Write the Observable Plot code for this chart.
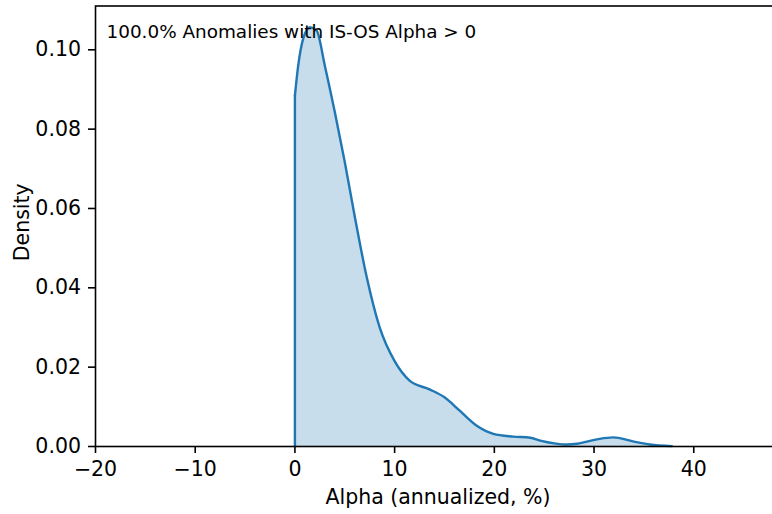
<!DOCTYPE html>
<html>
<head>
<meta charset="utf-8">
<script src="https://cdn.jsdelivr.net/npm/d3@7"></script>
<script src="https://cdn.jsdelivr.net/npm/@observablehq/plot@0.6"></script>
<style>
  html, body { margin: 0; padding: 0; background: white; }
  #chart { width: 772px; height: 514px; overflow: hidden; }
</style>
</head>
<body>
<div id="chart"></div>
<script>
// Data (KDE of alpha, annualized %)
const alphaValues = [0, 0.33, 0.83, 1.5, 2.17, 3.0, 4.0, 5.0, 6.0, 7.2, 8.5, 10.0, 11.5, 13.5, 15.0, 16.5, 18.2, 19.9, 21.9, 23.6, 24.6, 26.0, 27.3, 28.3, 30.3, 31.9, 33.9, 35.6, 37.8];
const densityValues = [0.0885, 0.096, 0.1028, 0.1057, 0.1049, 0.096, 0.0843, 0.0717, 0.058, 0.0427, 0.030, 0.0215, 0.0166, 0.0144, 0.0124, 0.0091, 0.0053, 0.0032, 0.0025, 0.0022, 0.0015, 0.0008, 0.0005, 0.0007, 0.0018, 0.0023, 0.0013, 0.0005, 0.0001];
const xTicks = [-20, -10, 0, 10, 20, 30, 40];
const yTicks = [0, 0.02, 0.04, 0.06, 0.08, 0.10];
const xLabel = "Alpha (annualized, %)";
const yLabel = "Density";
const annotation = "100.0% Anomalies with IS-OS Alpha > 0";

const data = alphaValues.map((a, i) => ({alpha: a, density: densityValues[i]}));
const blue = "#1f77b4";
const font = "DejaVu Sans";

const chart = Plot.plot({
  width: 772,
  height: 514,
  marginLeft: 95,
  marginRight: -8,
  marginTop: 5.5,
  marginBottom: 68,
  style: {fontFamily: font, background: "white", color: "black"},
  x: {domain: [-20, 48.7]},
  y: {domain: [0, 0.11104]},
  marks: [
    Plot.areaY(data, {x: "alpha", y: "density", fill: blue, fillOpacity: 0.25, curve: "monotone-x"}),
    Plot.ruleX([data[0]], {x: "alpha", y1: 0, y2: "density", stroke: blue, strokeWidth: 2.4}),
    Plot.lineY(data, {x: "alpha", y: "density", stroke: blue, strokeWidth: 2.4, curve: "monotone-x"}),
    Plot.frame({stroke: "black", strokeWidth: 1.6}),
    Plot.axisX({ticks: xTicks, tickFormat: d3.format("d"), tickSize: 7, tickPadding: 8, fontSize: 20.5, strokeWidth: 1.6, label: null}),
    Plot.axisY({ticks: yTicks, tickFormat: d3.format(".2f"), tickSize: 7, tickPadding: 7.5, fontSize: 20.5, strokeWidth: 1.6, label: null}),
    Plot.text([yLabel], {frameAnchor: "left", rotate: -90, lineAnchor: "top", textAnchor: "middle", dx: -81.5, dy: -4, fontSize: 20.5, fill: "black"}),
    Plot.text([xLabel], {frameAnchor: "bottom", lineAnchor: "top", textAnchor: "middle", dy: 43, fontSize: 20.5, fill: "black"}),
    Plot.text([annotation], {frameAnchor: "top-left", lineAnchor: "top", textAnchor: "start", dx: 11, dy: 19, fontSize: 18.4, fill: "black"})
  ]
});
document.getElementById("chart").appendChild(chart);
</script>
</body>
</html>
